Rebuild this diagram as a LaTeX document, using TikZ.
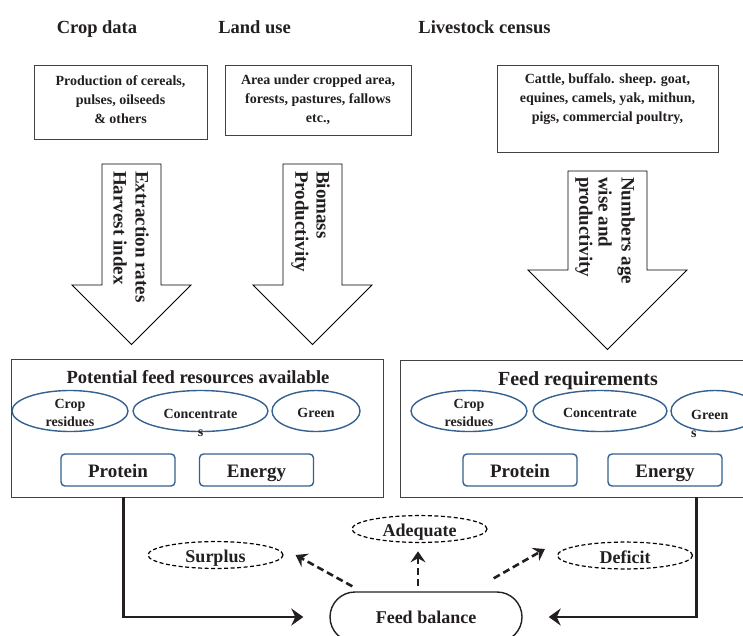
\documentclass[tikz,border=0pt]{standalone}
\usepackage{fontspec}
\setmainfont{Liberation Serif}
\usetikzlibrary{shapes.geometric,arrows.meta}
\definecolor{eblue}{HTML}{34618F}
\definecolor{ink}{HTML}{231F20}
\tikzset{
 head/.style={font=\bfseries\fontsize{18.5}{22}\selectfont, text=ink, inner sep=0, anchor=base},
 boxtxt/.style={font=\bfseries\fontsize{14}{19}\selectfont, text=ink, align=center, inner sep=0},
 databox/.style={draw=ink!85, line width=0.9pt, inner sep=0},
 blockarrow/.style={draw=black, line width=0.9pt, fill=white},
 arrtxt/.style={font=\bfseries\fontsize{19}{22}\selectfont, text=ink, rotate=-90, anchor=west, inner sep=0},
 bigbox/.style={draw=ink!85, line width=0.9pt, inner sep=0},
 feedell/.style={ellipse, draw=eblue, line width=1.4pt, minimum height=41pt, inner sep=0},
 elltxt/.style={font=\bfseries\fontsize{14}{18}\selectfont, text=ink, align=center, inner sep=0},
 titletxt/.style={font=\bfseries\fontsize{18.5}{22}\selectfont, text=ink, inner sep=0, anchor=base},
 nutbox/.style={draw=eblue, line width=1.4pt, rounded corners=4pt, minimum width=114pt, minimum height=32pt, font=\bfseries\fontsize{19}{22}\selectfont, text=ink, inner sep=0, text height=16pt, text depth=2pt},
 outcome/.style={ellipse, draw=black, dash pattern=on 4pt off 2.5pt, line width=1.2pt, minimum width=135pt, minimum height=24pt, inner sep=0, font=\bfseries\fontsize{18}{20}\selectfont, text=ink, text height=17pt, text depth=2pt},
 flowarr/.style={line width=2.8pt, draw=ink, -{Stealth[length=12pt,width=17pt,inset=4pt]}},
 dasharr/.style={line width=2.6pt, draw=ink, dash pattern=on 7pt off 4pt, -{Stealth[length=11pt,width=15pt,inset=4pt]}},
}
\begin{document}
\begin{tikzpicture}[x=1pt,y=-1pt]
\useasboundingbox (0,0) rectangle (743,635);
\clip (0,0) rectangle (743,635);
\fill[white] (0,0) rectangle (743,635);

% headings
\node[head] (hcrop) at (97,33) {Crop data};
\node[head] (hland) at (254.5,33) {Land use};
\node[head] (hlive) at (484.5,33) {Livestock census};

% data boxes
\node[databox, minimum width=173pt, minimum height=74pt] (cropbox) at (120.5,102) {};
\node[boxtxt] (croptxt) at (120.5,100) {Production of cereals,\\pulses, oilseeds\\\& others};
\node[databox, minimum width=186pt, minimum height=70pt] (landbox) at (318,100) {};
\node[boxtxt] (landtxt) at (318,100) {Area under cropped area,\\forests, pastures, fallows\\etc.,};
\node[databox, minimum width=221pt, minimum height=87pt] (livebox) at (607.5,108.5) {};
\node[boxtxt] (livetxt) at (607.5,99.5) {Cattle, buffalo. sheep. goat,\\equines, camels, yak, mithun,\\pigs, commercial poultry,};

% block arrows
\draw[blockarrow] (102,164) -- (161,164) -- (161,285) -- (191,285) -- (131.5,344.5) -- (72,285) -- (102,285) -- cycle;
\draw[blockarrow] (283,164) -- (342,164) -- (342,285) -- (372,285) -- (312.5,344.5) -- (253,285) -- (283,285) -- cycle;
\draw[blockarrow] (568,171) -- (647,171) -- (647,270) -- (687,270) -- (607.5,349.5) -- (528,270) -- (568,270) -- cycle;
\node[arrtxt] (a1l1) at (142,171) {Extraction rates};
\node[arrtxt] (a1l2) at (120,171) {Harvest index};
\node[arrtxt] (a2l1) at (323,171) {Biomass};
\node[arrtxt] (a2l2) at (300,171) {Productivity};
\node[arrtxt] (a3l1) at (626,177) {Numbers age};
\node[arrtxt] (a3l2) at (605,177) {wise and};
\node[arrtxt] (a3l3) at (584,177) {productivity};

% big boxes
\node[bigbox, minimum width=372pt, minimum height=138pt] (bigL) at (197,428) {};
\node[bigbox, minimum width=360pt, minimum height=137pt] (bigR) at (580,428.5) {};
\node[titletxt] (tL) at (198,383) {Potential feed resources available};
\node[titletxt, font=\bfseries\fontsize{20}{22}\selectfont] (tR) at (578,385) {Feed requirements};

% ellipses left
\node[feedell, minimum width=116pt] (crL) at (70,411) {};
\node[elltxt] (crLt) at (70,413) {Crop\\residues};
\node[feedell, minimum width=135pt] (coL) at (200.5,411) {};
\node[elltxt] (coLt) at (200.5,423) {Concentrate\\s};
\node[feedell, minimum width=88pt] (grL) at (316,411) {};
\node[elltxt] (grLt) at (316,413) {Green};

% ellipses right
\node[feedell, minimum width=116pt] (crR) at (469,411) {};
\node[elltxt] (crRt) at (469,413) {Crop\\residues};
\node[feedell, minimum width=134pt] (coR) at (600,411) {};
\node[elltxt] (coRt) at (600,413) {Concentrate};
\node[feedell, minimum width=88pt] (grR) at (715,411) {};
\node[elltxt, align=left, anchor=west] (grRt) at (691,424) {Green\\s};

% protein / energy
\node[nutbox] (prL) at (118,470) {Protein};
\node[nutbox] (enL) at (256.5,470) {Energy};
\node[nutbox] (prR) at (520,470) {Protein};
\node[nutbox] (enR) at (665,470) {Energy};

% feed balance
\node[draw=ink, line width=1.4pt, rounded corners=25pt, minimum width=192pt, minimum height=50pt, inner sep=0, font=\bfseries\fontsize{18}{20}\selectfont, text=ink, text height=14pt, text depth=2pt] (fb) at (426,617) {Feed balance};

% outcomes
\node[outcome] (sur) at (215.5,555) {Surplus};
\node[outcome, minimum height=23pt] (ade) at (419.5,529) {Adequate};
\node[outcome] (def) at (625,555.5) {Deficit};

% flow connectors
\draw[flowarr] ([xshift=113pt]bigL.south west) |- ([xshift=-26pt]fb.west);
\draw[flowarr] ([xshift=297pt]bigR.south west) |- ([xshift=26pt]fb.east);

% dashed connectors
\draw[dasharr] ([shift={(23,-5)}]fb.north west) -- ([xshift=12pt]sur.east);
\draw[dasharr] ([shift={(-8,-5)}]fb.north) -- ([shift={(-8,-40)}]fb.north);
\draw[dasharr] ([shift={(-29,-13)}]fb.north east) -- ([shift={(-12,-6.5)}]def.west);
\end{tikzpicture}
\end{document}
